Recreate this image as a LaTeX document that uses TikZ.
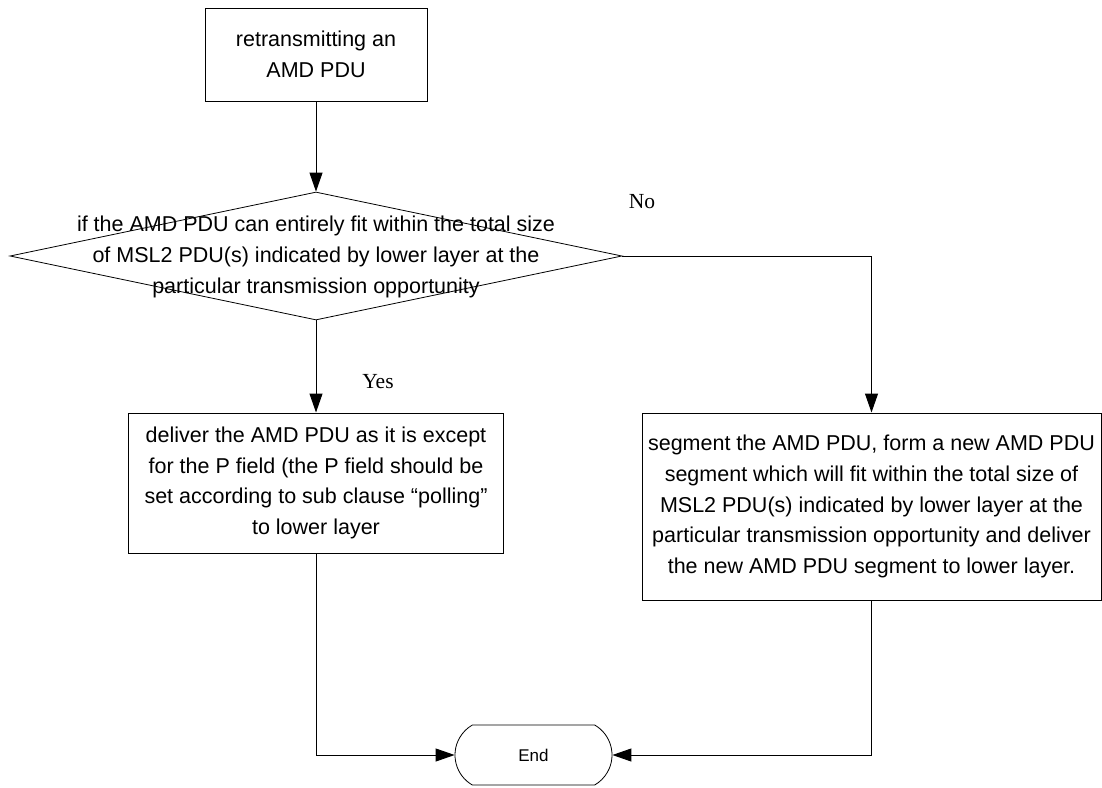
\documentclass[tikz,border=0pt]{standalone}
\usepackage{fontspec}
\setmainfont{Liberation Sans}
\newfontfamily\tnr{Liberation Serif}
\usetikzlibrary{arrows.meta,shapes.geometric,shapes.misc}
\begin{document}
\begin{tikzpicture}[x=1pt,y=-1pt,
  txt/.style={font=\fontsize{21.5}{30.8}\selectfont, align=center},
  box/.style={draw=black, line width=1pt, rectangle, inner sep=0pt, txt},
  lbl/.style={font=\tnr\fontsize{21.5}{26}\selectfont, inner sep=0pt},
  arr/.style={draw=black, line width=1pt, -{Triangle[length=19pt,width=13pt]}}
]
\useasboundingbox (0,0) rectangle (1102,787);
\fill[white] (0,0) rectangle (1102,787);

\node[box, minimum width=222pt, minimum height=93pt] (top) at (316,54.5)
  {retransmitting an\\AMD PDU};

\node[draw=black, line width=0.8pt, diamond, minimum width=612pt, minimum height=128pt, inner sep=0pt] (d) at (316,256) {};
\node[txt, inner sep=0pt] (dt) at (316,257) {if the AMD PDU can entirely fit within the total size\\of MSL2 PDU(s) indicated by lower layer at the\\particular transmission opportunity};

\node[lbl] (no) at (642,202) {No};
\node[lbl] (yes) at (378,382) {Yes};

\node[box, minimum width=375pt, minimum height=140pt] (lb) at (316,483)
  {deliver the AMD PDU as it is except\\for the P field (the P field should be\\set according to sub clause “polling”\\to lower layer};

\node[box, minimum width=459pt, minimum height=187pt] (rb) at (871.5,506.5)
  {segment the AMD PDU, form a new AMD PDU\\segment which will fit within the total size of\\MSL2 PDU(s) indicated by lower layer at the\\particular transmission opportunity and deliver\\the new AMD PDU segment to lower layer.};

\node[draw=black, line width=0.8pt, rounded rectangle, rounded rectangle arc length=120, minimum width=157pt, minimum height=60pt, inner sep=0pt, font=\fontsize{17}{20}\selectfont] (endn) at (533.5,755) {End};

\draw[arr] (top.south) -- (d.north);
\draw[arr] (d.south) -- (lb.north);
\draw[arr] (d.east) -| (rb.north);
\draw[arr] (lb.south) |- (endn.west);
\draw[arr] (rb.south) |- (endn.east);
\end{tikzpicture}
\end{document}
